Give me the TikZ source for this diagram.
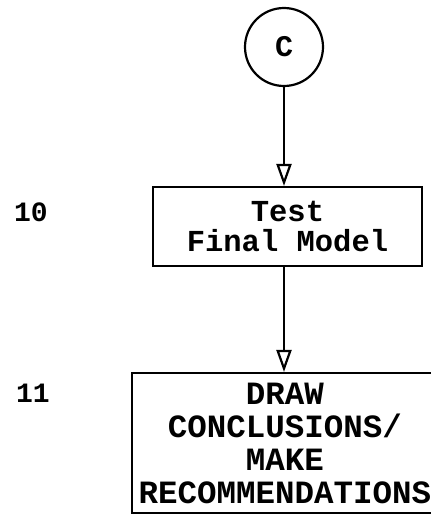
\documentclass[tikz,border=0pt]{standalone}
\usepackage{fontspec}
\newfontfamily\chartfont{Liberation Mono}
\usetikzlibrary{arrows.meta,positioning}

\begin{document}
\begin{tikzpicture}[x=1pt,y=-1pt,>={Triangle[open,length=22pt,width=15pt]},
          line width=2.2pt,
          box/.style={draw,rectangle,align=center,inner sep=0pt,
            font=\chartfont\bfseries\fontsize{30.5}{31}\selectfont},
          con/.style={draw,circle,minimum size=78pt,inner sep=0pt,
            font=\chartfont\bfseries\fontsize{30}{31}\selectfont},
          num/.style={font=\chartfont\bfseries\fontsize{28}{30}\selectfont}]
        \useasboundingbox (0,0) rectangle (431,514);
        \node[con] (c) at (284,47) {C};
        \node[box,minimum width=269pt,minimum height=79pt] (test) at (287.5,226.5)
          {Test\\[-1pt]Final Model};
        \node[box,minimum width=306pt,minimum height=140pt,
          font=\chartfont\bfseries\fontsize{32.5}{33}\selectfont] (concl) at (285,443)
          {DRAW\\CONCLUSIONS/\\MAKE\\RECOMMENDATIONS};
        \node[num] (n10) at (31,212) {10};
        \node[num] (n11) at (33,393) {11};
        \draw[->] (c) -- (c |- test.north);
        \draw[->] (c |- test.south) -- (c |- concl.north);
      \end{tikzpicture}
\end{document}
